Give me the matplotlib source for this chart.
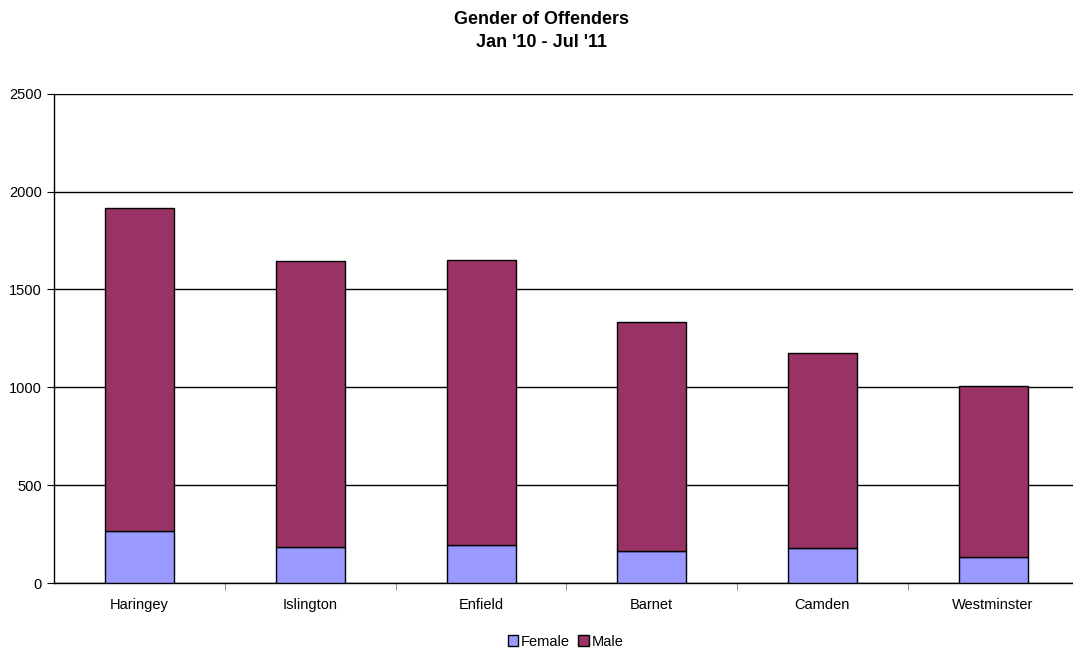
import numpy as np
import matplotlib.pyplot as plt

plt.rcParams['font.family'] = ['Liberation Sans', 'DejaVu Sans']

# offender counts by borough
boroughs = ['Haringey', 'Islington', 'Enfield', 'Barnet', 'Camden', 'Westminster']
female = [265, 185, 194, 166, 177, 135]
total = [1917, 1644, 1650, 1332, 1174, 1008]
male = [t - f for t, f in zip(total, female)]

female_col = '#9999FF'
male_col = '#993366'

fig = plt.figure(figsize=(10.73, 6.48), dpi=100)
ax = fig.add_axes([0.0506, 0.1003, 0.9545, 0.7551])

x = np.arange(len(boroughs))
w = 0.404
ax.bar(x, female, w, color=female_col, edgecolor='black', linewidth=1, label='Female', zorder=3)
ax.bar(x, male, w, bottom=female, color=male_col, edgecolor='black', linewidth=1, label='Male', zorder=3)

ax.set_xlim(-0.5, len(boroughs) - 0.5)
ax.set_ylim(0, 2500)
ax.set_yticks(np.arange(0, 2501, 500))
ax.yaxis.grid(True, color='black', linewidth=1)
ax.set_axisbelow(True)

ax.set_xticks(x)
ax.set_xticklabels(boroughs, fontsize=10.5)
ax.tick_params(axis='x', length=0, pad=11)
ax.set_xticks(np.arange(0.5, len(boroughs) - 0.5), minor=True)
ax.tick_params(axis='x', which='minor', length=5, color='#808080')
ax.tick_params(axis='y', labelsize=10.5, length=5, pad=4)

for s in ['top', 'right']:
    ax.spines[s].set_visible(False)
ax.spines['left'].set_linewidth(1)
ax.spines['bottom'].set_linewidth(1)

fig.text(0.505, 0.97, "Gender of Offenders", ha='center', va='center', fontsize=13, fontweight='bold')
fig.text(0.505, 0.934, "Jan '10 - Jul '11", ha='center', va='center', fontsize=13, fontweight='bold')

fig.legend(loc='center', bbox_to_anchor=(0.527, 0.01), ncol=2, frameon=False, fontsize=10.5,
           handlelength=0.7, handleheight=0.7, handletextpad=0.2, columnspacing=0.6)

fig.savefig('out.png', dpi=100)
